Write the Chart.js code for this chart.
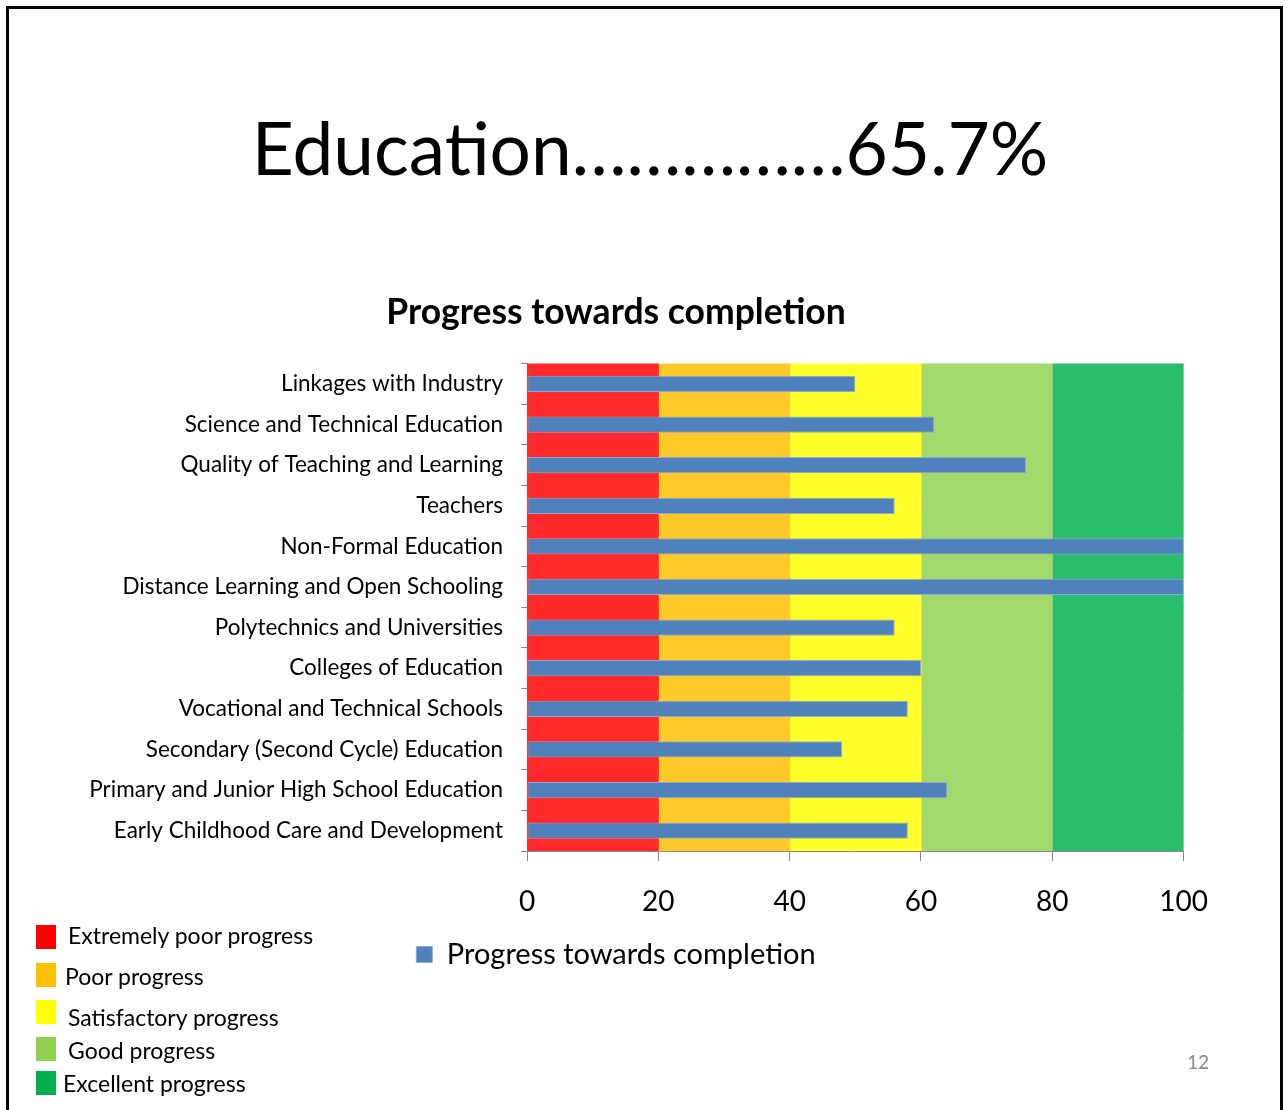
<!DOCTYPE html>
<html>
<head>
<meta charset="utf-8">
<script src="https://cdn.jsdelivr.net/npm/chart.js@4/dist/chart.umd.min.js"></script>
<style>
  html, body { margin: 0; padding: 0; background: #fff; }
  body { width: 1287px; height: 1110px; position: relative; overflow: hidden; font-family: Lato, "Open Sans", sans-serif; }
  #frame { position: absolute; left: 6px; top: 6px; width: 1271px; height: 1200px; border: 3px solid #000; }
  #title { position: absolute; left: 0; width: 1300px; top: 97px; text-align: center; font-size: 73px; line-height: 100px; color: #000; }
  #wrap { position: absolute; left: 0; top: 285px; width: 1232px; height: 694px; }
  .key { position: absolute; font-size: 23px; color: #000; line-height: 24px; }
  .key i { position: absolute; width: 20px; height: 24px; }
  #page { position: absolute; left: 1187px; top: 1050px; font-size: 19px; color: #8c8c8c; }
</style>
</head>
<body>
<div id="frame"></div>
<div id="title">Education……………65.7%</div>
<div id="wrap"><canvas id="chart"></canvas></div>
<div id="keys"></div>
<div id="page">12</div>
<script>
/* categories, top to bottom as shown */
const categories = [
  'Linkages with Industry',
  'Science and Technical Education',
  'Quality of Teaching and Learning',
  'Teachers',
  'Non-Formal Education',
  'Distance Learning and Open Schooling',
  'Polytechnics and Universities',
  'Colleges of Education',
  'Vocational and Technical Schools',
  'Secondary (Second Cycle) Education',
  'Primary and Junior High School Education',
  'Early Childhood Care and Development',
];
const progress = [50, 62, 76, 56, 100, 100, 56, 60, 58, 48, 64, 58];

/* rating bands behind the bars */
const bandNames  = ['Extremely poor progress', 'Poor progress', 'Satisfactory progress', 'Good progress', 'Excellent progress'];
const bandStart  = [0, 20, 40, 60, 80];
const bandEnd    = [20, 40, 60, 80, 100];
const bandColors = ['#FF0000', '#FFC000', '#FFFF00', '#92D050', '#00B050'];
const xTicks     = [0, 20, 40, 60, 80, 100];

// lighten towards white, kept opaque so overlapping rows leave no seams
function fade(hex, a) {
  const n = parseInt(hex.slice(1), 16);
  const mix = c => Math.round(c * a + 255 * (1 - a));
  return `rgb(${mix(n >> 16)},${mix((n >> 8) & 255)},${mix(n & 255)})`;
}

/* slide legend on the left */
const keyTop  = [925, 963, 1000, 1037, 1071];
const keyTxtY = [923, 964, 1005, 1038, 1071];
const keyTxtX = [68, 65, 68, 68, 63];
const keys = document.getElementById('keys');
bandNames.forEach((name, i) => {
  const sq = document.createElement('div');
  sq.className = 'key';
  sq.style.left = '36px'; sq.style.top = keyTop[i] + 'px';
  sq.innerHTML = `<i style="background:${bandColors[i]}"></i>`;
  keys.appendChild(sq);
  const tx = document.createElement('div');
  tx.className = 'key';
  tx.style.left = keyTxtX[i] + 'px'; tx.style.top = keyTxtY[i] + 'px';
  tx.textContent = name;
  keys.appendChild(tx);
});

const datasets = [{
  label: 'Progress towards completion',
  data: progress,
  backgroundColor: '#4F81BD',
  borderColor: '#8FA9D0',
  borderWidth: 1,
  borderSkipped: false,
  barPercentage: 0.4,
  categoryPercentage: 1,
  grouped: false,
  order: 0,
}];
bandNames.forEach((name, i) => {
  datasets.push({
    label: name,
    data: categories.map(() => [bandStart[i], bandEnd[i]]),
    backgroundColor: fade(bandColors[i], 0.84),
    borderWidth: 0,
    barPercentage: 1,
    categoryPercentage: 1,
    grouped: false,
    inflateAmount: 0.5,
    order: 1,
  });
});

Chart.defaults.font.family = 'Lato';
Chart.defaults.color = '#000';

new Chart(document.getElementById('chart'), {
  type: 'bar',
  data: { labels: categories, datasets },
  options: {
    indexAxis: 'y',
    responsive: true,
    maintainAspectRatio: false,
    animation: false,
    layout: { padding: 0 },
    plugins: {
      title: {
        display: true,
        text: 'Progress towards completion',
        font: { size: 35.5, weight: 'bold' },
        color: '#000',
        padding: { top: 6, bottom: 30 },
      },
      legend: {
        position: 'bottom',
        labels: {
          font: { size: 29 },
          color: '#000',
          boxWidth: 16, boxHeight: 16,
          padding: 10,
          filter: item => item.datasetIndex === 0,
        },
      },
      tooltip: { enabled: false },
    },
    scales: {
      x: {
        min: 0, max: 100,
        stacked: false,
        afterBuildTicks: s => { s.ticks = xTicks.map(v => ({ value: v })); },
        afterFit: s => { s.height = 79; },
        ticks: { font: { size: 28 }, color: '#000', padding: 24 },
        grid: { drawOnChartArea: false, tickLength: 10, color: '#8a8a8a' },
        border: { color: '#8a8a8a' },
      },
      y: {
        afterFit: s => { s.width = 527; },
        ticks: { font: { size: 22.5 }, color: '#000', padding: 18, autoSkip: false },
        grid: { drawOnChartArea: false, tickLength: 6, color: '#8a8a8a', offset: true },
        border: { color: '#8a8a8a' },
      },
    },
  },
});
</script>
</body>
</html>
